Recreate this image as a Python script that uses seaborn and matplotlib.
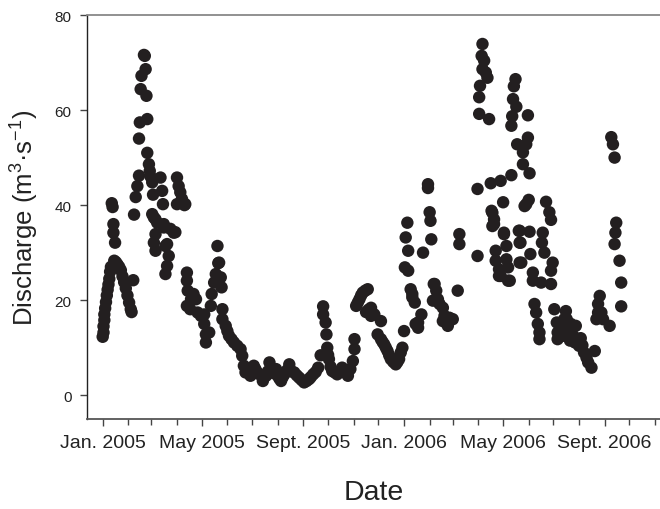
import numpy as np
import pandas as pd
import matplotlib
matplotlib.use("Agg")
import matplotlib.pyplot as plt
import matplotlib.dates as mdates
import seaborn as sns

# ---- data (days after 1 Jan 2005, discharge in m3/s) ----
start_date = "2005-01-01"
day = [0, 1, 1, 2, 2, 3, 4, 5, 6, 7, 8, 9, 10, 11, 12, 13, 13, 15,
       14, 16, 18, 20, 22, 24, 26, 28, 30, 32, 34, 35, 37,
       38, 40, 42, 44, 44, 45, 46, 47, 50, 51, 52, 53, 54, 54,
       56, 57, 58, 60, 61, 60, 62, 64, 66, 64, 62, 64, 70, 72, 73, 74, 74,
       76, 78, 80, 78, 76, 82, 86, 88, 90, 92, 94, 96, 90, 99, 100,
       102, 102, 103, 107, 110, 113, 102, 106, 115, 119, 123, 123, 125, 125,
       129, 131, 132, 135, 137, 139, 140, 141, 143, 144, 145, 145, 149, 151,
       153, 156, 159, 163, 167, 169, 171, 173, 176, 179, 181, 183, 185, 187,
       190, 194, 198, 200, 202, 204, 206, 208, 210, 212, 214, 216, 218, 220,
       223, 226, 229, 232, 235, 238, 241, 244, 247, 250, 252, 255, 258, 261,
       264, 267, 267, 270, 271, 272, 273, 274, 276, 278, 281, 284, 287, 290,
       293, 297, 300, 303, 305, 305, 307, 309, 311, 313, 315, 318, 321, 323,
       325, 319, 322, 325, 329, 333, 337, 337, 339, 341, 343, 345, 347, 349,
       352, 355, 357, 359, 361, 363, 365, 366, 367, 369, 370, 370, 373, 375,
       375, 378, 379, 382, 382, 386, 388, 394, 394, 396, 397, 398, 400, 401,
       402, 404, 406, 408, 412, 412, 414, 418, 420, 424, 430, 432, 432,
       454, 454, 456, 456, 457, 459, 460, 460, 462, 464, 466, 468, 470, 471,
       472, 472, 474, 474, 476, 476, 480, 480, 482, 482, 485, 486, 486, 489,
       489, 491, 491, 493, 495, 495, 496, 497, 498, 500, 501, 502, 504, 505,
       505, 505, 506, 507, 509, 509, 511, 513, 513, 515, 515, 516, 517, 517,
       518, 521, 521, 523, 525, 527, 529, 529, 531, 532, 533, 535, 537, 541,
       543, 543, 545, 543, 547, 550, 551, 551, 555, 557, 559, 561, 562, 565,
       566, 567, 570, 572, 573, 577, 579, 581, 583, 586, 588, 592, 596, 598,
       600, 600, 602, 604, 606, 614, 616, 618, 620, 621, 622, 620, 626, 628,
       628, 630, 631]
discharge = [12.3, 13.2, 14.5, 15.8, 17.0, 18.3, 19.6, 21.0, 22.2, 23.3, 24.5, 26.0, 27.0, 40.4, 39.6, 36.0, 34.2, 32.1,
             28.3, 28.0, 27.5, 27.0, 26.3, 25.0, 23.8, 22.5, 21.0, 19.5, 18.1, 17.5, 24.2,
             38.0, 41.7, 44.0, 46.2, 54.0, 57.4, 64.4, 67.2, 71.6, 71.4, 68.6, 63.0, 58.1, 51.0,
             48.6, 47.2, 46.0, 44.8, 42.2, 38.1, 37.4, 37.0, 36.3, 33.9, 32.1, 30.4, 45.8, 43.0, 40.2, 36.0, 35.3,
             31.4, 31.8, 29.3, 27.2, 25.5, 35.0, 34.2, 34.3, 45.8, 44.0, 42.7, 41.3, 40.2, 40.0, 40.2,
             25.8, 24.1, 22.0, 20.2, 21.3, 20.2, 18.8, 18.1, 17.4, 16.7, 17.0, 15.0, 12.8, 11.1,
             13.2, 18.8, 21.3, 23.7, 25.5, 31.4, 27.8, 27.9, 24.8, 22.7, 18.1, 16.0, 14.6, 13.5,
             12.5, 11.8, 11.1, 10.4, 9.7, 8.3, 6.2, 4.8, 5.2, 4.1, 5.0, 6.2, 5.5, 4.8,
             4.4, 3.0, 4.1, 5.0, 6.9, 4.8, 5.5, 4.6, 5.5, 4.1, 3.5, 3.0, 3.8, 4.4,
             5.2, 6.5, 5.0, 4.8, 4.2, 3.7, 3.2, 2.7, 3.0, 3.4, 3.8, 4.4, 4.9, 5.8,
             8.4, 18.7, 17.0, 15.3, 12.8, 10.0, 8.5, 7.6, 6.0, 5.1, 4.8, 4.4, 5.0, 5.8,
             4.8, 4.1, 5.5, 7.2, 9.7, 11.8, 18.8, 19.5, 20.2, 21.0, 21.6, 22.0, 22.3, 17.7,
             16.7, 17.5, 18.0, 18.4, 17.0, 12.8, 15.6, 11.8, 11.2, 10.7, 10.0, 9.3,
             8.4, 7.6, 7.0, 6.5, 7.0, 7.6, 9.0, 10.0, 13.5, 26.9, 33.2, 36.3, 30.4, 26.2,
             22.3, 21.3, 20.6, 19.5, 15.0, 15.3, 14.2, 17.0, 30.0, 44.4, 43.6, 38.5, 36.7, 32.8,
             19.9, 23.4, 23.4, 22.0, 20.2, 19.2, 15.6, 18.4, 16.7, 14.6, 16.3, 16.0, 22.0,
             33.9, 31.8, 29.3, 43.4, 59.2, 62.7, 65.1, 71.4, 73.9, 68.6, 70.4, 67.9, 66.8, 58.1,
             44.6, 38.8, 38.4, 35.6, 37.0, 36.0, 30.4, 28.3, 26.5, 25.1, 25.1, 45.1, 40.6, 33.9,
             34.2, 31.4, 28.6, 24.1, 26.9, 24.1, 46.3, 56.7, 58.7, 62.3, 65.0, 66.5, 60.7, 52.8,
             34.6, 32.1, 27.9, 34.6, 32.1, 27.9, 51.1, 48.6, 39.8, 52.8, 40.2, 58.9, 54.2, 41.1,
             46.7, 34.4, 29.7, 25.8, 24.1, 19.2, 17.4, 15.0, 13.2, 11.8, 23.7, 32.1, 34.2, 30.0,
             40.7, 38.5, 36.9, 26.2, 27.9, 23.4, 18.1, 15.3, 13.2, 11.8, 14.0, 12.5, 16.0, 17.7,
             16.0, 13.0, 11.5, 15.0, 12.5, 11.1, 14.6, 10.4, 12.0, 10.5, 9.0, 7.9, 6.9, 5.8,
             9.3, 16.0, 17.4, 19.2, 20.9, 17.4, 16.0, 14.6, 54.3, 52.8, 50.0, 34.2, 36.3, 31.8,
             28.3, 23.7, 18.7]
major_dates = ["2005-01-01", "2005-05-01", "2005-09-01", "2006-01-01", "2006-05-01", "2006-09-01"]
major_labels = ["Jan. 2005", "May 2005", "Sept. 2005", "Jan. 2006", "May 2006", "Sept. 2006"]
y_ticks = [0, 20, 40, 60, 80]

sns.set_theme(style="white")
plt.rcParams["font.family"] = ["Liberation Sans", "DejaVu Sans"]
plt.rcParams["mathtext.fontset"] = "custom"
plt.rcParams["mathtext.rm"] = "Liberation Sans"
plt.rcParams["mathtext.it"] = "Liberation Sans:italic"
plt.rcParams["mathtext.bf"] = "Liberation Sans:bold"

n = min(len(day), len(discharge))
df = pd.DataFrame({
    "Date": pd.Timestamp(start_date) + pd.to_timedelta(np.array(day[:n]), unit="D"),
    "Discharge": discharge[:n],
})

fig = plt.figure(figsize=(6.6, 5.1), dpi=100)
ax = fig.add_axes([87 / 660, 1 - 420 / 510, (660 - 87) / 660, (420 - 16) / 510])

sns.scatterplot(data=df, x="Date", y="Discharge", ax=ax, s=80, color="#231f20",
                edgecolor="none", linewidth=0, legend=False)

ax.set_xlim(pd.Timestamp("2004-12-13"), pd.Timestamp("2006-11-07"))
ax.set_ylim(-5, 80)
ax.set_yticks(y_ticks)
ax.set_yticklabels([str(v) for v in y_ticks], fontsize=11, color="#222222")
ax.set_xticks([mdates.date2num(pd.Timestamp(d)) for d in major_dates])
ax.set_xticklabels(major_labels, fontsize=14, color="#222222")
ax.xaxis.set_minor_locator(mdates.MonthLocator())
ax.tick_params(axis="x", which="major", direction="out", length=5, width=1, color="#444444", pad=6, bottom=True)
ax.tick_params(axis="x", which="minor", direction="out", length=4, width=1, color="#444444", bottom=True)
ax.tick_params(axis="y", which="major", direction="out", length=5, width=1, color="#444444", pad=6, left=True)

ax.spines["right"].set_visible(False)
ax.spines["top"].set_color("#888888")
ax.spines["top"].set_linewidth(1.3)
ax.spines["left"].set_color("#222222")
ax.spines["left"].set_linewidth(1.0)
ax.spines["bottom"].set_color("#555555")
ax.spines["bottom"].set_linewidth(1.3)

ax.set_xlabel("Date", fontsize=20.5, color="#222222", labelpad=20)
ax.set_ylabel("Discharge (m$^{3}$·s$^{-1}$)", fontsize=18.5, color="#222222", labelpad=10)
ax.grid(False)

fig.savefig("out.png", dpi=100)
